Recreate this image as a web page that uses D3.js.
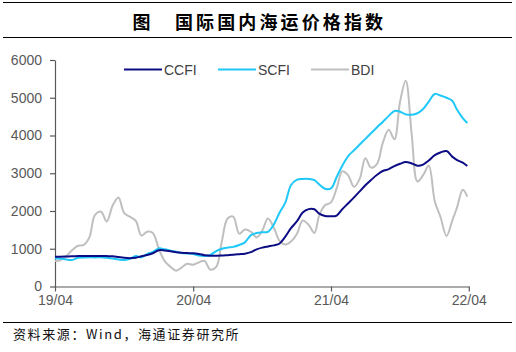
<!DOCTYPE html>
<html>
<head>
<meta charset="utf-8">
<script src="https://cdn.jsdelivr.net/npm/d3@7"></script>
<style>
	body { margin: 0; background: #fff; }
	svg { display: block; }
</style>
</head>
<body>
<div id="chart"></div>
<script>
// half-monthly observations, 2019/04 - 2022/04
const dates = [
	"2019-04-01", "2019-04-16", "2019-05-01", "2019-05-16", "2019-06-01", "2019-06-16",
	"2019-07-01", "2019-07-16", "2019-08-01", "2019-08-16", "2019-09-01", "2019-09-16",
	"2019-10-01", "2019-10-16", "2019-11-01", "2019-11-16", "2019-12-01", "2019-12-16",
	"2020-01-01", "2020-01-16", "2020-02-01", "2020-02-16", "2020-03-01", "2020-03-16",
	"2020-04-01", "2020-04-16", "2020-05-01", "2020-05-16", "2020-06-01", "2020-06-16",
	"2020-07-01", "2020-07-16", "2020-08-01", "2020-08-16", "2020-09-01", "2020-09-16",
	"2020-10-01", "2020-10-16", "2020-11-01", "2020-11-16", "2020-12-01", "2020-12-16",
	"2021-01-01", "2021-01-16", "2021-02-01", "2021-02-16", "2021-03-01", "2021-03-16",
	"2021-04-01", "2021-04-16", "2021-05-01", "2021-05-16", "2021-06-01", "2021-06-16",
	"2021-07-01", "2021-07-16", "2021-08-01", "2021-08-16", "2021-09-01", "2021-09-16",
	"2021-10-01", "2021-10-16", "2021-11-01", "2021-11-16", "2021-12-01", "2021-12-16",
	"2022-01-01", "2022-01-16", "2022-02-01", "2022-02-16", "2022-03-01", "2022-03-16",
	"2022-03-28"
];

const ccfi = [
	790, 790, 795, 800, 805, 810, 810, 810, 808, 805, 800, 780,
	760, 750, 760, 800, 835, 880, 960, 955, 935, 910, 895, 885,
	880, 860, 830, 815, 815, 820, 830, 840, 855, 870, 910, 985,
	1030, 1060, 1090, 1140, 1320, 1545, 1730, 1960, 2050, 2045, 1930, 1870,
	1860, 1880, 2050, 2200, 2360, 2520, 2680, 2820, 2960, 3060, 3110, 3190,
	3250, 3300, 3260, 3200, 3230, 3340, 3480, 3550, 3590, 3440, 3350, 3280,
	3190
];

const scfi = [
	750, 740, 715, 705, 760, 770, 775, 770, 775, 760, 740, 715,
	700, 735, 805, 775, 860, 915, 1010, 985, 950, 920, 890, 875,
	860, 820, 810, 835, 940, 1000, 1030, 1050, 1100, 1170, 1360, 1415,
	1435, 1450, 1650, 1960, 2220, 2680, 2830, 2850, 2850, 2820, 2700, 2590,
	2600, 2900, 3200, 3450, 3610, 3760, 3910, 4060, 4220, 4360, 4520, 4650,
	4630, 4560, 4550, 4590, 4700, 4900, 5100, 5060, 5000, 4920, 4680, 4460,
	4330
];

const bdi = [
	675, 700, 800, 960, 1080, 1100, 1300, 1900, 1980, 1720, 2150, 2360,
	1950, 1850, 1740, 1350, 1450, 1420, 1000, 680, 520, 420, 500, 600,
	575, 640, 680, 450, 520, 1200, 1800, 1850, 1400, 1510, 1450, 1300,
	1480, 1800, 1550, 1200, 1110, 1190, 1400, 1750, 1630, 1420, 1890, 2150,
	2230, 2600, 3050, 2950, 2640, 2850, 3400, 3150, 3250, 3800, 4150, 3900,
	4900, 5450, 4000, 2780, 2950, 3200, 2250, 1840, 1340, 1740, 2100, 2560,
	2380
];

const yTicks = [0, 1000, 2000, 3000, 4000, 5000, 6000];
const xTickDates = ["2019-04-01", "2020-04-01", "2021-04-01", "2022-04-01"];
const xTickLabels = ["19/04", "20/04", "21/04", "22/04"];

const seriesNames = ["CCFI", "SCFI", "BDI"];
const seriesColors = ["#0c0c84", "#1ec8f8", "#bfbfbf"];

const title = "国际国内海运价格指数";
const source = "资料来源：Wind，海通证券研究所";

const width = 516, height = 352;
const margin = {top: 60, right: 48, bottom: 65.5, left: 55};
const parse = d3.timeParse("%Y-%m-%d");

const svg = d3.select("#chart").append("svg")
	.attr("width", width)
	.attr("height", height);

// header rules and title
svg.append("line")
	.attr("x1", 3).attr("x2", 512)
	.attr("y1", 2.5).attr("y2", 2.5)
	.attr("stroke", "#000").attr("stroke-width", 1);
svg.append("line")
	.attr("x1", 3).attr("x2", 512)
	.attr("y1", 37.5).attr("y2", 37.5)
	.attr("stroke", "#000").attr("stroke-width", 1);
svg.append("text")
	.attr("x", 141.5).attr("y", 29)
	.attr("text-anchor", "middle")
	.style("font", "bold 18px 'Noto Sans CJK SC'")
	.text("图");
svg.append("text")
	.attr("x", 175).attr("y", 29)
	.attr("textLength", 208)
	.attr("lengthAdjust", "spacing")
	.style("font", "bold 18px 'Noto Sans CJK SC'")
	.text(title);

// footer
svg.append("line")
	.attr("x1", 3).attr("x2", 512)
	.attr("y1", 322.5).attr("y2", 322.5)
	.attr("stroke", "#000").attr("stroke-width", 1);
svg.append("text")
	.attr("x", 13).attr("y", 339)
	.style("font", "13px 'Noto Sans CJK SC'")
	.style("letter-spacing", "1.6px")
	.attr("fill", "#111")
	.text(source);

const x = d3.scaleTime()
	.domain([parse(xTickDates[0]), parse(xTickDates[xTickDates.length - 1])])
	.range([margin.left, width - margin.right + 0.8]);

const y = d3.scaleLinear()
	.domain([0, 6000])
	.range([height - margin.bottom, margin.top]);

// axes
let yAxis = g => g
	.attr("transform", `translate(${margin.left},0)`)
	.call(d3.axisLeft(y).tickValues(yTicks).tickFormat(d3.format("d"))
		.tickSize(5).tickSizeOuter(0).tickPadding(8));

let xAxis = g => g
	.attr("transform", `translate(0,${height - margin.bottom})`)
	.call(d3.axisBottom(x)
		.tickValues(xTickDates.map(parse))
		.tickFormat((d, i) => xTickLabels[i])
		.tickSize(5).tickSizeOuter(0).tickPadding(4));

[svg.append("g").call(yAxis), svg.append("g").call(xAxis)].forEach(g => {
	g.select(".domain").attr("stroke", "#595959").attr("stroke-width", 1.2);
	g.selectAll(".tick line").attr("stroke", "#595959").attr("stroke-width", 1.2);
	g.selectAll(".tick text")
		.attr("fill", "#595959")
		.style("font", "14px 'Liberation Sans', Arial, sans-serif");
});

// lines
const series = [ccfi, scfi, bdi];
const line = d3.line()
	.x((d, i) => x(parse(dates[i])))
	.y(d => y(d))
	.curve(d3.curveCatmullRom.alpha(0.5));

[2, 1, 0].forEach(k => {
	svg.append("path")
		.datum(series[k])
		.attr("fill", "none")
		.attr("stroke", seriesColors[k])
		.attr("stroke-width", 2)
		.attr("stroke-linejoin", "round")
		.attr("d", line);
});

// legend
const legendX = [124, 218, 311];
const legend = svg.append("g");
seriesNames.forEach((name, k) => {
	legend.append("line")
		.attr("x1", legendX[k]).attr("x2", legendX[k] + 38)
		.attr("y1", 69.5).attr("y2", 69.5)
		.attr("stroke", seriesColors[k])
		.attr("stroke-width", 2);
	legend.append("text")
		.attr("x", legendX[k] + 40).attr("y", 74.5)
		.attr("fill", "#404040")
		.style("font", "14px 'Liberation Sans', Arial, sans-serif")
		.text(name);
});
</script>
</body>
</html>
